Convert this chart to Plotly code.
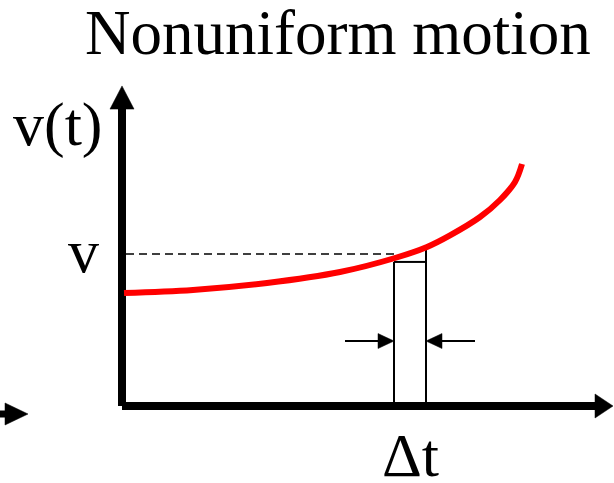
import plotly.graph_objects as go

# ---- data (t in arbitrary time units, v in arbitrary velocity units) ----
curve_t = [0.05, 1.775, 3.625, 5.45, 6.825, 7.625, 8.2, 8.95, 9.45, 9.825, 10.0]
curve_v = [4.0, 4.106, 4.354, 4.743, 5.239, 5.63, 6.04, 6.69, 7.292, 7.93, 8.566]

v_level = 5.38          # value marked by the dashed line
dash_t = [0.1, 6.83]

strip_left = 6.8        # left edge of the Δt strip
strip_right = 7.6       # right edge of the Δt strip
strip_top_left = 5.1    # top of strip (left edge / top bar)
strip_top_right = 5.7   # right edge extends up to the curve

arrow_v = 2.3           # height of the Δt pointer arrows
left_ptr_start, left_ptr_base = 5.575, 6.4
right_ptr_start, right_ptr_base = 8.825, 8.0
ptr_half = 0.265

# axes
v_axis_top, v_axis_base, v_axis_half = 11.33, 10.51, 0.3
t_axis_tip, t_axis_base, t_axis_half = 12.275, 11.825, 0.425
# partial arrow at left edge
stub_v, stub_start, stub_base, stub_tip, stub_half = -0.283, -3.2, -2.925, -2.35, 0.39

title_text = "Nonuniform motion"
ylabel_text = "v(t)"
vlabel_text = "v"
dt_text = "Δt"

FONT = "Liberation Serif, Times New Roman, serif"
BLACK = "#000000"

fig = go.Figure()

def line(xs, ys, width, color=BLACK, dash=None, shape="linear"):
    fig.add_trace(go.Scatter(x=xs, y=ys, mode="lines", hoverinfo="skip",
                             line=dict(color=color, width=width, dash=dash, shape=shape)))

def tri(xs, ys):
    fig.add_trace(go.Scatter(x=xs + [xs[0]], y=ys + [ys[0]], mode="lines", fill="toself",
                             fillcolor=BLACK, line=dict(color=BLACK, width=0.5), hoverinfo="skip"))

# vertical axis
line([0, 0], [0, v_axis_base + 0.1], 8)
tri([-v_axis_half, v_axis_half, 0], [v_axis_base, v_axis_base, v_axis_top])
# horizontal axis
line([0, t_axis_base + 0.05], [0, 0], 8)
tri([t_axis_base, t_axis_base, t_axis_tip], [-t_axis_half, t_axis_half, 0])
# stub arrow at left
line([stub_start, stub_base + 0.05], [stub_v, stub_v], 7)
tri([stub_base, stub_base, stub_tip], [stub_v - stub_half, stub_v + stub_half, stub_v])

# dashed level line
line(dash_t, [v_level, v_level], 1.6, dash="8px,5px")

# strip
line([strip_left, strip_left], [0, strip_top_left], 2)
line([strip_right, strip_right], [0, strip_top_right], 2)
line([strip_left, strip_right], [strip_top_left, strip_top_left], 2)

# pointer arrows
line([left_ptr_start, left_ptr_base], [arrow_v, arrow_v], 2)
tri([left_ptr_base, left_ptr_base, strip_left], [arrow_v - ptr_half, arrow_v + ptr_half, arrow_v])
line([right_ptr_start, right_ptr_base], [arrow_v, arrow_v], 2)
tri([right_ptr_base, right_ptr_base, strip_right], [arrow_v - ptr_half, arrow_v + ptr_half, arrow_v])

# curve
line(curve_t, curve_v, 6, color="#FF0000", shape="spline")

def label(text, x, y, size=62):
    fig.add_annotation(x=x, y=y, text=text, showarrow=False, xanchor="center", yanchor="middle",
                       font=dict(family=FONT, size=size, color=BLACK))

label(title_text, 5.39, 13.2, size=63)
label(ylabel_text, -1.59, 9.95)
label(vlabel_text, -0.975, 5.49)
label(dt_text, 7.22, -1.74)

fig.update_layout(
    width=614, height=483, margin=dict(l=0, r=0, t=0, b=0),
    paper_bgcolor="white", plot_bgcolor="white", showlegend=False,
    xaxis=dict(range=[-3.05, 12.3], visible=False, fixedrange=True),
    yaxis=dict(range=[-2.7257, 14.372], visible=False, fixedrange=True),
)

fig.write_html("out.html", post_script="document.body.style.margin='0';",
               config={"displayModeBar": False})
